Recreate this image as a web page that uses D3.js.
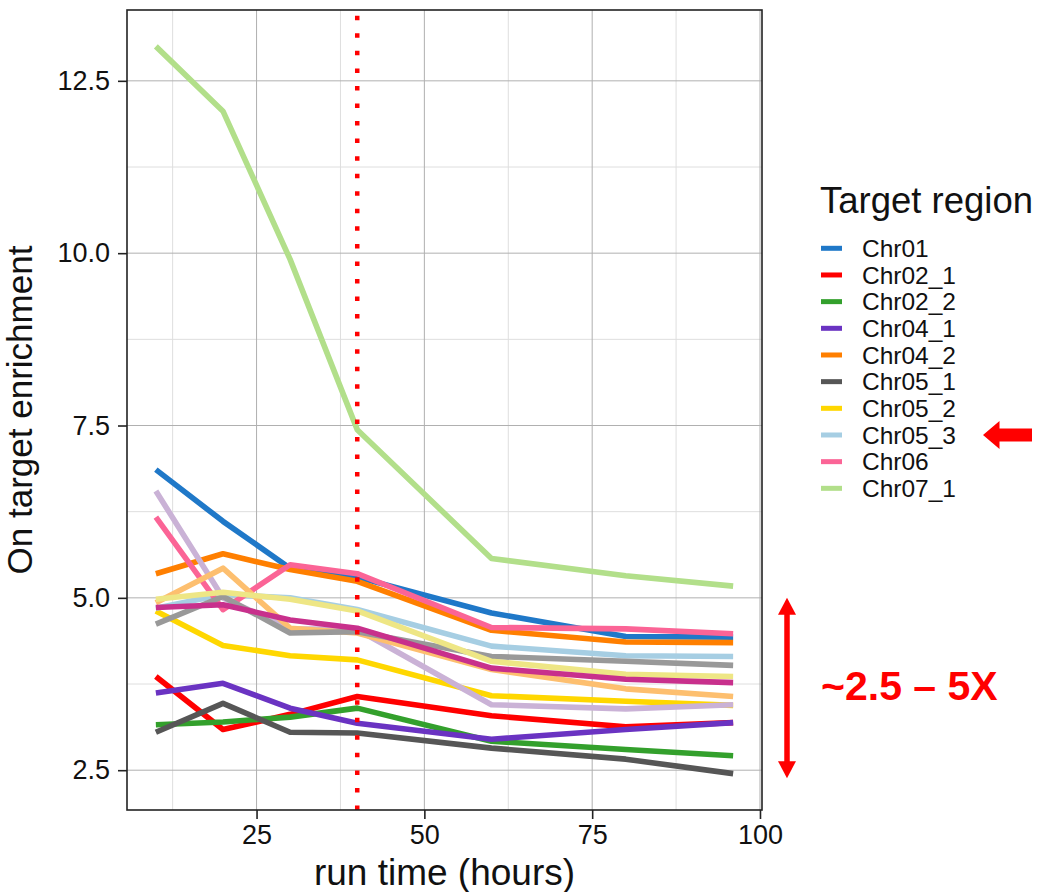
<!DOCTYPE html>
<html><head><meta charset="utf-8">
<script src="https://cdn.jsdelivr.net/npm/d3@7"></script>
<style>body{margin:0;background:#fff}text{font-family:"Liberation Sans",Arial,sans-serif}</style>
</head><body>
<svg id="chart" width="1037" height="892"></svg>
<script>
// ---- data ----
const hours = [10, 20, 30, 40, 60, 80, 96];
const seriesNames = ["Chr01","Chr02_1","Chr02_2","Chr04_1","Chr04_2","Chr05_1","Chr05_2","Chr05_3","Chr06","Chr07_1",
                     "Chr07_2","Chr08","Chr09","Chr10","Chr11"];
const legendNames = ["Chr01","Chr02_1","Chr02_2","Chr04_1","Chr04_2","Chr05_1","Chr05_2","Chr05_3","Chr06","Chr07_1"];
const chr01   = [6.86, 6.11, 5.43, 5.30, 4.78, 4.44, 4.43];
const chr02_1 = [3.86, 3.09, 3.31, 3.57, 3.29, 3.13, 3.19];
const chr02_2 = [3.16, 3.20, 3.27, 3.40, 2.92, 2.80, 2.71];
const chr04_1 = [3.62, 3.76, 3.40, 3.18, 2.95, 3.09, 3.19];
const chr04_2 = [5.35, 5.64, 5.41, 5.24, 4.53, 4.36, 4.35];
const chr05_1 = [3.05, 3.47, 3.05, 3.04, 2.82, 2.66, 2.45];
const chr05_2 = [4.81, 4.31, 4.16, 4.10, 3.58, 3.50, 3.44];
const chr05_3 = [4.85, 5.05, 5.00, 4.83, 4.30, 4.16, 4.15];
const chr06   = [6.17, 4.83, 5.48, 5.35, 4.57, 4.55, 4.48];
const chr07_1 = [13.00, 12.06, 9.91, 7.44, 5.57, 5.32, 5.17];
const chr07_2 = [6.55, 5.00, 4.55, 4.54, 3.45, 3.39, 3.45];
const chr08   = [4.93, 5.43, 4.56, 4.49, 3.96, 3.68, 3.57];
const chr09   = [4.62, 5.02, 4.49, 4.51, 4.15, 4.08, 4.02];
const chr10   = [4.98, 5.08, 4.98, 4.81, 4.08, 3.89, 3.86];
const chr11   = [4.86, 4.90, 4.68, 4.56, 3.98, 3.82, 3.77];
const seriesValues = [chr01,chr02_1,chr02_2,chr04_1,chr04_2,chr05_1,chr05_2,chr05_3,chr06,chr07_1,chr07_2,chr08,chr09,chr10,chr11];
const colors = ["#1F78C8","#FF0000","#33A02C","#6A33C2","#FF7F00","#565656","#FFD700","#A6CEE3","#FB6496","#B2DF8A",
                "#CAB2D6","#FDBF6F","#999999","#EEE685","#C8308C"];
const xTicks = [25, 50, 75, 100];
const yTicks = [2.5, 5.0, 7.5, 10.0, 12.5];
const xMinor = [12.5, 37.5, 62.5, 87.5];
const yMinor = [3.75, 6.25, 8.75, 11.25];
const cutoffHour = 40;
const annotationText = "~2.5 \u2013 5X";
const annotRange = [2.5, 5.0];

// ---- layout ----
const svg = d3.select("#chart");
const P = {left: 127, right: 762, top: 10, bottom: 810};
const allVals = seriesValues.flat();
const xExt = d3.extent(hours), yExt = d3.extent(allVals);
const xPad = (xExt[1]-xExt[0])*0.05, yPad = (yExt[1]-yExt[0])*0.05;
const x = d3.scaleLinear().domain([xExt[0]-xPad, xExt[1]+xPad]).range([P.left, P.right]);
const y = d3.scaleLinear().domain([yExt[0]-yPad, yExt[1]+yPad]).range([P.bottom, P.top]);

const g = svg.append("g");
// minor grid
g.selectAll(".xmin").data(xMinor).join("line")
  .attr("x1", d=>x(d)).attr("x2", d=>x(d)).attr("y1", P.top).attr("y2", P.bottom)
  .attr("stroke", "#dedede").attr("stroke-width", 1);
g.selectAll(".ymin").data(yMinor).join("line")
  .attr("y1", d=>y(d)).attr("y2", d=>y(d)).attr("x1", P.left).attr("x2", P.right)
  .attr("stroke", "#dedede").attr("stroke-width", 1);
// major grid
g.selectAll(".xmaj").data(xTicks).join("line")
  .attr("x1", d=>x(d)).attr("x2", d=>x(d)).attr("y1", P.top).attr("y2", P.bottom)
  .attr("stroke", "#b0b0b0").attr("stroke-width", 1);
g.selectAll(".ymaj").data(yTicks).join("line")
  .attr("y1", d=>y(d)).attr("y2", d=>y(d)).attr("x1", P.left).attr("x2", P.right)
  .attr("stroke", "#b0b0b0").attr("stroke-width", 1);

// lines
const line = d3.line().x((d,i)=>x(hours[i])).y(d=>y(d));
g.selectAll(".series").data(seriesValues).join("path")
  .attr("d", d=>line(d)).attr("fill","none")
  .attr("stroke", (d,i)=>colors[i]).attr("stroke-width", 5.6)
  .attr("stroke-linejoin","round").attr("stroke-linecap","butt");

// dotted cutoff line
g.append("line")
  .attr("x1", x(cutoffHour)).attr("x2", x(cutoffHour))
  .attr("y1", P.bottom).attr("y2", P.top)
  .attr("stroke", "#FF0000").attr("stroke-width", 4.5)
  .attr("stroke-dasharray", "4.5 13.05");

// panel border
g.append("rect").attr("x", P.left).attr("y", P.top)
  .attr("width", P.right-P.left).attr("height", P.bottom-P.top)
  .attr("fill","none").attr("stroke","#222").attr("stroke-width",1.6);

// axes
const xAxis = d3.axisBottom(x).tickValues(xTicks).tickSize(9).tickPadding(6).tickFormat(d3.format("d"));
const xa = svg.append("g").attr("transform", `translate(0,${P.bottom})`).call(xAxis);
xa.select(".domain").remove();
xa.selectAll(".tick line").attr("stroke","#222").attr("stroke-width",1.6);
xa.selectAll("text").attr("font-size", 27).attr("fill","#111").attr("font-family","Liberation Sans");

const yAxis = d3.axisLeft(y).tickValues(yTicks).tickSize(9).tickPadding(8).tickFormat(d3.format(".1f"));
const ya = svg.append("g").attr("transform", `translate(${P.left},0)`).call(yAxis);
ya.select(".domain").remove();
ya.selectAll(".tick line").attr("stroke","#222").attr("stroke-width",1.6);
ya.selectAll("text").attr("font-size", 27).attr("fill","#111").attr("font-family","Liberation Sans");

// axis titles
svg.append("text").attr("x", (P.left+P.right)/2).attr("y", 885)
  .attr("text-anchor","middle").attr("font-size", 37).attr("fill","#111").text("run time (hours)");
svg.append("text").attr("transform", `translate(32,${(P.top+P.bottom)/2}) rotate(-90)`)
  .attr("text-anchor","middle").attr("font-size", 35).attr("fill","#111").text("On target enrichment");

// legend
const lg = svg.append("g");
lg.append("text").attr("x", 820).attr("y", 213).attr("font-size", 36.5).attr("fill","#111").text("Target region");
const rows = lg.selectAll(".row").data(legendNames).join("g")
  .attr("transform", (d,i)=>`translate(0,${248.3 + i*26.67})`);
rows.append("line").attr("x1", 821).attr("x2", 842).attr("y1",0).attr("y2",0)
  .attr("stroke", (d,i)=>colors[i]).attr("stroke-width", 5);
rows.append("text").attr("x", 862).attr("y", 0).attr("dy","0.36em")
  .attr("font-size", 24.5).attr("textLength", null).attr("fill","#111").text(d=>d);

// legend pointer arrow (Chr05_3)
const iArrow = legendNames.indexOf("Chr05_3");
const ay = 248.3 + iArrow*26.67;
svg.append("path")
  .attr("d", `M983,${ay} L999.5,${ay-14} L999.5,${ay-6.5} L1032,${ay-6.5} L1032,${ay+6.5} L999.5,${ay+6.5} L999.5,${ay+14} Z`)
  .attr("fill","#FF0000");

// double arrow annotation
const axX = 787, yTop = y(annotRange[1]), yBot = y(annotRange[0]) + 8;
svg.append("line").attr("x1", axX).attr("x2", axX).attr("y1", yTop+12).attr("y2", yBot-12)
  .attr("stroke","#FF0000").attr("stroke-width",5.5);
svg.append("path").attr("d", `M${axX},${yTop} L${axX+9},${yTop+17} L${axX-9},${yTop+17} Z`).attr("fill","#FF0000");
svg.append("path").attr("d", `M${axX},${yBot} L${axX+9},${yBot-17} L${axX-9},${yBot-17} Z`).attr("fill","#FF0000");
svg.append("text").attr("x", 821).attr("y", 700)
  .attr("font-family","Lato").attr("font-weight","bold").attr("font-size", 41)
  .attr("fill","#FF0000").text(annotationText);
</script>
</body></html>
